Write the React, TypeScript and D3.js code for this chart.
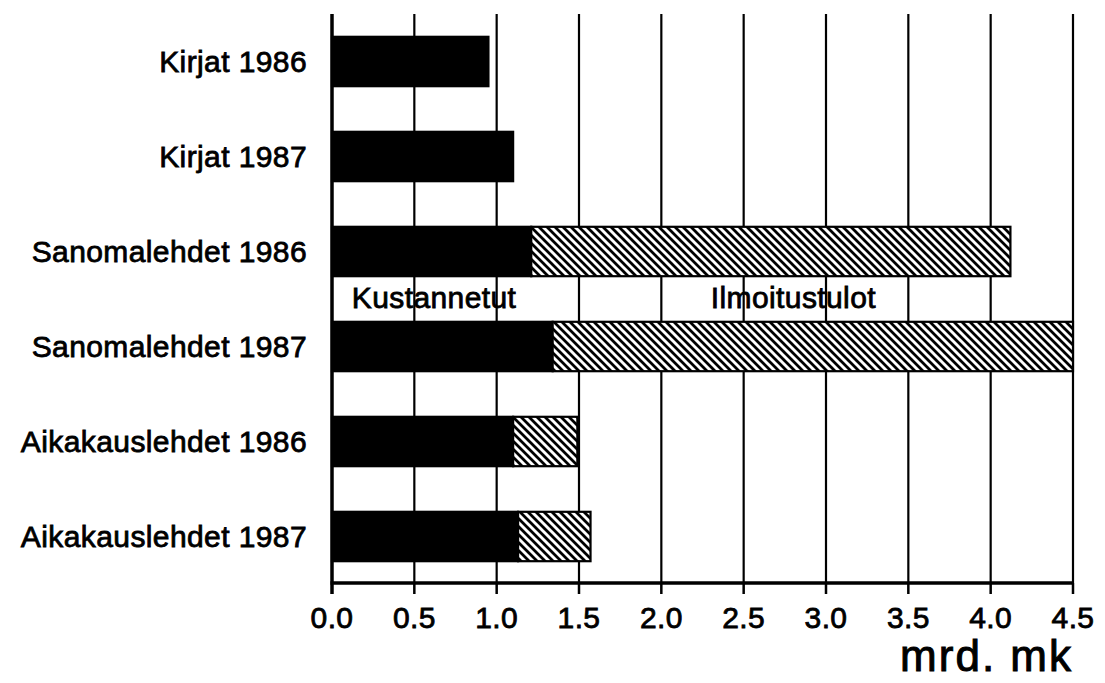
import React from "react";
import * as d3 from "d3";

const width = 1105;
const height = 683;
const margin = { top: 14, right: 32, bottom: 100, left: 332 };

const categories = [
  "Kirjat 1986",
  "Kirjat 1987",
  "Sanomalehdet 1986",
  "Sanomalehdet 1987",
  "Aikakauslehdet 1986",
  "Aikakauslehdet 1987"
];
const kustannetut = [0.95, 1.1, 1.21, 1.34, 1.1, 1.13];
const ilmoitustulot = [0, 0, 2.91, 3.16, 0.39, 0.44];
const tickValues = [0, 0.5, 1, 1.5, 2, 2.5, 3, 3.5, 4, 4.5];
const seriesKeys = ["Kustannetut", "Ilmoitustulot"];

const font = "'Liberation Sans', Arial, Helvetica, sans-serif";
// scanned Helvetica looks heavier than the regular face, thicken it a bit
const textStyle = {
  fontFamily: font,
  fontSize: 30,
  letterSpacing: 0.4,
  fill: "#000",
  stroke: "#000",
  strokeWidth: 0.8
};

export default function App() {
  const rows = categories.map((c, i) => ({
    category: c,
    Kustannetut: kustannetut[i],
    Ilmoitustulot: ilmoitustulot[i]
  }));
  const stacked = d3.stack().keys(seriesKeys)(rows as any);

  const x = d3
    .scaleLinear()
    .domain([0, 4.5])
    .range([margin.left, width - margin.right]);
  const y = d3
    .scaleBand()
    .domain(categories)
    .range([margin.top, height - margin.bottom + 1])
    .paddingInner(0.48)
    .paddingOuter(0.24);
  const axisY = height - margin.bottom;

  return (
    <svg
      width={width}
      height={height}
      style={{ position: "absolute", left: 0, top: 0, background: "#fff" }}
    >
      <defs>
        <pattern id="hatch" patternUnits="userSpaceOnUse" width={8} height={8}>
          <rect width={8} height={8} fill="#fff" />
          <path
            d="M-2,-2 L10,10 M-2,6 L2,10 M6,-2 L10,2"
            stroke="#000"
            strokeWidth={2.8}
          />
        </pattern>
      </defs>

      {/* grid lines */}
      {tickValues.map(t => (
        <line
          key={"g" + t}
          x1={x(t)}
          x2={x(t)}
          y1={margin.top}
          y2={axisY}
          stroke="#000"
          strokeWidth={t === 0 ? 3.5 : 2.2}
        />
      ))}

      {/* bars */}
      {stacked.map((layer, li) =>
        layer.map((d, i) =>
          d[1] - d[0] > 0 ? (
            <rect
              key={li + "-" + i}
              x={x(d[0])}
              y={y(categories[i])}
              width={x(d[1]) - x(d[0])}
              height={y.bandwidth()}
              fill={li === 0 ? "#000" : "url(#hatch)"}
              stroke="#000"
              strokeWidth={2.2}
            />
          ) : null
        )
      )}

      {/* category labels */}
      {categories.map(c => (
        <text
          key={c}
          x={margin.left - 25}
          y={(y(c) as number) + y.bandwidth() / 2}
          dy="0.36em"
          textAnchor="end"
          style={textStyle}
        >
          {c}
        </text>
      ))}

      {/* series labels */}
      <text x={x(0.12)} y={308} style={textStyle}>
        {seriesKeys[0]}
      </text>
      <text x={x(2.3)} y={308} style={textStyle}>
        {seriesKeys[1]}
      </text>

      {/* x axis */}
      <line
        x1={x(0) - 1.5}
        x2={x(4.5) + 1}
        y1={axisY}
        y2={axisY}
        stroke="#000"
        strokeWidth={3.5}
      />
      {tickValues.map(t => (
        <g key={"t" + t}>
          <line
            x1={x(t)}
            x2={x(t)}
            y1={axisY}
            y2={axisY + 11}
            stroke="#000"
            strokeWidth={t === 0 ? 3.5 : 2.5}
          />
          <text x={x(t)} y={axisY + 45} textAnchor="middle" style={textStyle}>
            {t.toFixed(1)}
          </text>
        </g>
      ))}
      <text
        x={x(4.5)}
        y={671}
        textAnchor="end"
        style={{ ...textStyle, fontSize: 44, letterSpacing: 2, strokeWidth: 1 }}
      >
        mrd. mk
      </text>
    </svg>
  );
}
